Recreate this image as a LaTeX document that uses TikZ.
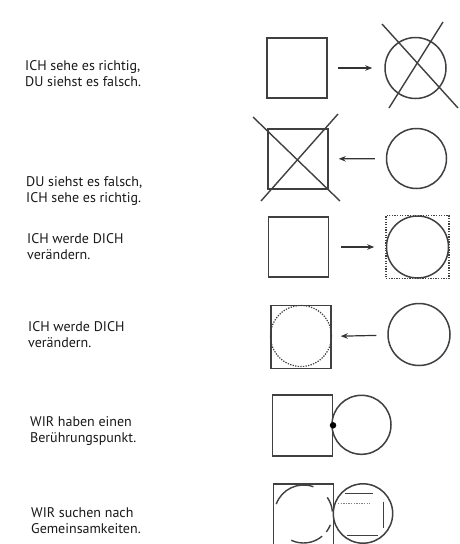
\documentclass[tikz,border=0pt]{standalone}
\usepackage{fontspec}
\setmainfont{PT Sans}
\usetikzlibrary{arrows.meta}
\begin{document}
\begin{tikzpicture}[x=1pt,y=1pt,
  		sq/.style={draw=black!75,line width=1.5pt,minimum size=60pt,inner sep=0pt},
  		ci/.style={circle,draw=black!75,line width=1.5pt,minimum size=60pt,inner sep=0pt},
  		txt/.style={anchor=base west,align=left,text=black!90,inner sep=0pt,
  		  font=\fontsize{14}{16}\selectfont},
  		arr/.style={-{Stealth[length=7pt,width=5.5pt]},line width=1.2pt,draw=black!80},
  		cross/.style={line width=1.4pt,draw=black!75},
  		dots/.style={dash pattern=on 1.3pt off 1.3pt,line width=1.2pt,draw=black!75}]
  		\useasboundingbox[fill=white] (0,0) rectangle (459,-544);
  		% zeile 1
  		\node[txt] (t1) at (25,-86) {ICH sehe es richtig,\\DU siehst es falsch.};
  		\node[sq] (sq1) at (297,-68) {};
  		\node[ci,minimum size=61pt] (ci1) at (415.5,-68) {};
  		\draw[arr,shorten <=10pt,shorten >=12pt] (sq1) -- (ci1);
  		\coordinate (x1a) at (382,-24);
  		\coordinate (x1b) at (458,-108);
  		\coordinate (x1c) at (443,-22);
  		\coordinate (x1d) at (389,-108);
  		\draw[cross] (x1a) -- (x1b);
  		\draw[cross] (x1c) -- (x1d);
  		% zeile 2
  		\node[txt] (t2) at (26,-202) {DU siehst es falsch,\\ICH sehe es richtig.};
  		\node[sq] (sq2) at (298,-159) {};
  		\node[ci] (ci2) at (416.5,-158.5) {};
  		\draw[arr,shorten <=11pt,shorten >=10pt] (ci2) -- (sq2);
  		\coordinate (x2a) at (253,-117);
  		\coordinate (x2b) at (340,-201);
  		\coordinate (x2c) at (338,-114);
  		\coordinate (x2d) at (261,-201);
  		\draw[cross] (x2a) -- (x2b);
  		\draw[cross] (x2c) -- (x2d);
  		% zeile 3
  		\node[txt] (t3) at (27,-259) {ICH werde DICH\\verändern.};
  		\node[sq] (sq3) at (298.5,-247) {};
  		\node[ci,minimum size=62pt] (ci3) at (417.5,-247) {};
  		\node[sq,dots,minimum size=63pt] (fr3) at (ci3) {};
  		\draw[arr,shorten <=11.5pt,shorten >=11.5pt] (sq3) -- (ci3);
  		% zeile 4
  		\node[txt] (t4) at (28,-347) {ICH werde DICH\\verändern.};
  		\node[sq,minimum height=63pt] (sq4) at (301,-337) {};
  		\node[ci,dots,minimum size=61pt] (in4) at (301,-336) {};
  		\node[ci,minimum size=62pt] (ci4) at (419,-334.5) {};
  		\draw[arr,shorten <=11pt,shorten >=9pt] (ci4) -- (sq4);
  		% zeile 5
  		\node[txt] (t5) at (30,-442) {WIR haben einen\\Berührungspunkt.};
  		\node[sq,minimum height=61pt] (sq5) at (302.3,-425.3) {};
  		\node[ci,minimum size=59pt] (ci5) at (361.5,-424.8) {};
  		\node[circle,fill=black,minimum size=6.5pt,inner sep=0pt] (pt5) at (sq5.east) {};
  		% zeile 6
  		\node[txt] (t6) at (31,-533) {WIR suchen nach\\Gemeinsamkeiten.};
  		\node[sq,minimum height=62pt] (sq6) at (303.7,-515) {};
  		\node[ci,minimum size=59.4pt] (ci6) at (363,-513.5) {};
  		\coordinate (m6) at (303.5,-514);
  		\draw[cross] (m6) ++(160:29) arc[start angle=160,end angle=70,radius=29];
  		\draw[cross] (m6) ++(245:29) arc[start angle=245,end angle=310,radius=29];
  		\draw[cross] (m6) ++(5:29) arc[start angle=5,end angle=35,radius=29];
  		\draw[cross] (m6) ++(-38:29) arc[start angle=-38,end angle=-22,radius=29];
  		\draw[cross] (345,-493.3) -- (373.3,-493.3);
  		\draw[cross] (383.3,-501.7) -- (383.3,-528.3);
  		\draw[cross] (346.7,-535.7) -- (378.3,-535.7);
  		\draw[dots,line width=0.6pt,draw=black!50] (338,-503.3) -- (370,-503.3);
\end{tikzpicture}
\end{document}
